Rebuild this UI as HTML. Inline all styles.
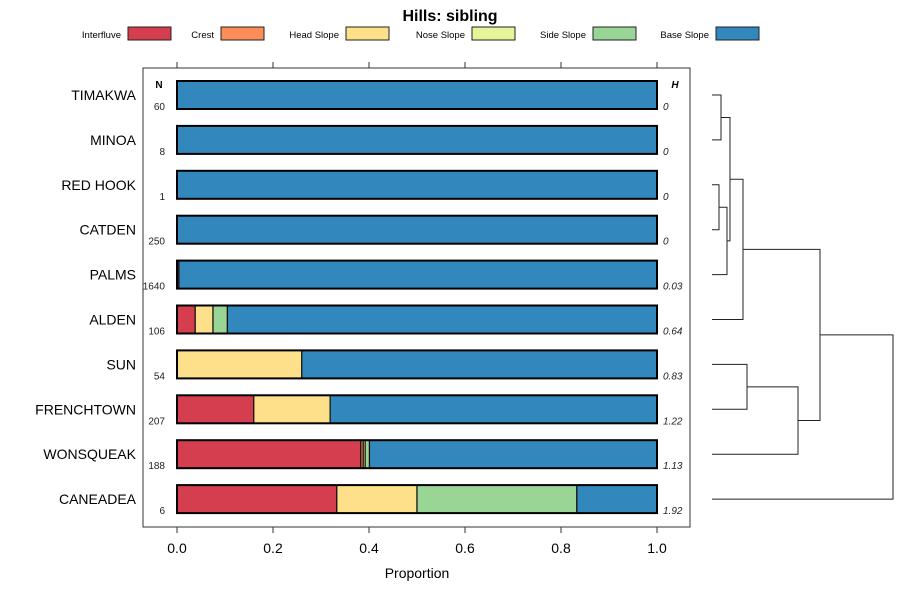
<!DOCTYPE html>
<html><head><meta charset="utf-8"><style>
body{margin:0;background:#fff}
svg{font-family:"Liberation Sans",sans-serif}
</style></head><body>
<svg id="c" width="900" height="600" viewBox="0 0 900 600" xmlns="http://www.w3.org/2000/svg">
<text x="450" y="21" text-anchor="middle" font-size="16" font-weight="bold">Hills: sibling</text>
<g id="legend"></g>
<rect x="143" y="68" width="547" height="459" fill="none" stroke="#333" stroke-width="1"/>
<g id="bars"></g>
<g id="axis"></g>
<g id="dendro"></g>
<text x="417" y="578" text-anchor="middle" font-size="14">Proportion</text>
</svg>
<script>
const categories=["TIMAKWA","MINOA","RED HOOK","CATDEN","PALMS","ALDEN","SUN","FRENCHTOWN","WONSQUEAK","CANEADEA"];
const seriesNames=["Interfluve","Crest","Head Slope","Nose Slope","Side Slope","Base Slope"];
const colors=["#d53e4f","#fc8d59","#fee08b","#e6f598","#99d594","#3288bd"];
const interfluve=[0,0,0,0,0.004,0.038,0,0.16,0.383,0.333];
const crest=[0,0,0,0,0,0,0,0,0.005,0];
const headSlope=[0,0,0,0,0,0.037,0.26,0.159,0.004,0.167];
const noseSlope=[0,0,0,0,0,0,0,0,0,0];
const sideSlope=[0,0,0,0,0,0.03,0,0,0.009,0.333];
const baseSlope=[1,1,1,1,0.996,0.895,0.74,0.681,0.599,0.167];
const nValues=["60","8","1","250","1640","106","54","207","188","6"];
const hValues=["0","0","0","0","0.03","0.64","0.83","1.22","1.13","1.92"];
const xTicks=[0,0.2,0.4,0.6,0.8,1.0];
const xTickLabels=["0.0","0.2","0.4","0.6","0.8","1.0"];
// dendrogram merges: [left node, right node, height]; leaves 0..9, merges 10+
const merges=[[0,1,0.09],[2,3,0.07],[11,4,0.15],[10,12,0.18],[13,5,0.31],[6,7,0.35],[15,8,0.86],[14,16,1.08],[17,9,1.81]];
const NS="http://www.w3.org/2000/svg";
function mk(t,a,p){const e=document.createElementNS(NS,t);for(const k in a)e.setAttribute(k,a[k]);p.appendChild(e);return e;}
const xs=v=>177+v*480;
const ys=i=>95+i*44.9;
const series=[interfluve,crest,headSlope,noseSlope,sideSlope,baseSlope];
// legend
const lg=document.getElementById('legend');
const legX=[121,214,339,465,586,709];
seriesNames.forEach((n,i)=>{
 const t=mk('text',{x:legX[i],y:38,'text-anchor':'end','font-size':9.5},lg);t.textContent=n;
 
 
 const r=mk('rect',{x:legX[i]+7,y:27,width:43,height:13,fill:colors[i],stroke:'#222'},lg);
 
 
});
const bg=document.getElementById('bars');
let t=mk('text',{x:159,y:88,'font-size':10,'font-weight':'bold','text-anchor':'middle'},bg);t.textContent='N';


t=mk('text',{x:675,y:88,'font-size':10,'font-weight':'bold','font-style':'italic','text-anchor':'middle'},bg);t.textContent='H';


categories.forEach((c,i)=>{
 const y=ys(i);
 let l=mk('text',{x:136,y:y+5,'text-anchor':'end','font-size':14},bg);l.textContent=c;
 
 
 let cum=0;
 series.forEach((s,j)=>{
  const v=s[i]; if(v<=0)return;
  const r=mk('rect',{x:xs(cum),y:y-14,width:v*480,height:28,fill:colors[j],stroke:'#111','stroke-width':1.2},bg);
  
  
  cum+=v;
 });
 const o=mk('rect',{x:xs(0),y:y-14,width:480,height:28,fill:'none',stroke:'#000','stroke-width':2},bg);
 
 
 l=mk('text',{x:165,y:y+15,'text-anchor':'end','font-size':10,fill:'#222'},bg);l.textContent=nValues[i];
 
 
 l=mk('text',{x:663,y:y+15,'font-size':10,'font-style':'italic',fill:'#222'},bg);l.textContent=hValues[i];
 
 
});
const ax=document.getElementById('axis');
xTicks.forEach((v,i)=>{
 const x=xs(v);
 let e=mk('line',{x1:x,x2:x,y1:62,y2:68,stroke:'#333'},ax);
 
 
 e=mk('line',{x1:x,x2:x,y1:527,y2:533,stroke:'#333'},ax);
 
 
 e=mk('text',{x:x,y:553,'text-anchor':'middle','font-size':14},ax);e.textContent=xTickLabels[i];
 
 
});
// dendrogram
const dg=document.getElementById('dendro');
const hx=h=>712+h*100;
const pos={};
categories.forEach((c,i)=>{pos[i]=[712,ys(i)];});
merges.forEach((m,k)=>{
 const a=pos[m[0]],b=pos[m[1]],x=hx(m[2]);
 const p=mk('path',{d:`M${a[0]},${a[1]}H${x}V${b[1]}H${b[0]}`,fill:'none',stroke:'#222','stroke-width':1},dg);
 
 
 pos[10+k]=[x,(a[1]+b[1])/2];
});
</script>
</body></html>
